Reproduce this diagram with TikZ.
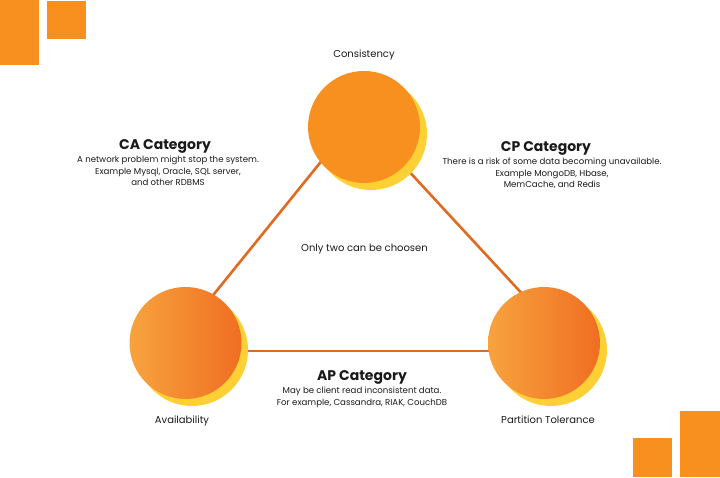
\documentclass[tikz,border=0pt]{standalone}
\usepackage{fontspec}
\setmainfont{Poppins}
\usetikzlibrary{positioning}

\definecolor{capOrange}{HTML}{F7901E}
\definecolor{capLight}{HTML}{F7A33E}
\definecolor{capDark}{HTML}{F06E22}
\definecolor{capYellow}{HTML}{FDD135}
\definecolor{capLine}{HTML}{E06A1F}
\definecolor{capText}{HTML}{1A1A1A}

\tikzset{
    ball/.style={circle, minimum size=112pt, inner sep=0pt},
    ballshadow/.style={ball, fill=capYellow},
    edgeline/.style={draw=capLine, line width=2.6pt},
    cathead/.style={font=\bfseries\fontsize{14}{16}\selectfont, text=capText, inner sep=0pt},
    catbody/.style={font=\fontsize{8.6}{11.2}\selectfont, text=capText, align=center, inner sep=0pt},
    vertex/.style={font=\fontsize{10}{12}\selectfont, text=capText, inner sep=0pt}
}

\begin{document}
\begin{tikzpicture}[x=1pt, y=-1pt]
    \useasboundingbox (0,0) rectangle (720,478);

    % 角上的方块
    \fill[capOrange] (0,0) rectangle (39,65);
    \fill[capOrange] (47,1) rectangle (86,39);
    \fill[capOrange] (633,438) rectangle (672,477);
    \fill[capOrange] (680,411) rectangle (720,477);

    % 三角形的连线
    \coordinate (cTop)   at (349,127);
    \coordinate (cTopR)  at (368,127);
    \coordinate (cLeft)  at (168,351);
    \coordinate (cRight) at (575,351);
    \coordinate (bLeft)  at (185,351);
    \coordinate (bRight) at (544,351);
    \draw[edgeline] (cTop) -- (cLeft);
    \draw[edgeline] (cTopR) -- (cRight);
    \draw[edgeline] (bLeft) -- (bRight);

    % 三个圆
    \node[ballshadow] (cShadow) at (371,134) {};
    \node[ball, fill=capOrange] (consistency) at (364,127) {};
    \node[ballshadow] (aShadow) at (192,350) {};
    \node[ball, left color=capLight, right color=capDark] (availability) at (185.5,343) {};
    \node[ballshadow] (pShadow) at (551,350) {};
    \node[ball, left color=capLight, right color=capDark] (partition) at (544,343) {};

    % 顶点文字
    \node[vertex] (consTxt) at (364,55) {Consistency};
    \node[vertex] (availTxt) at (182,421) {Availability};
    \node[vertex] (partTxt) at (548,420) {Partition Tolerance};
    \node[vertex] (onlyTwo) at (364.5,249) {Only two can be choosen};

    % CA
    \node[cathead] (caHead) at (165,146) {CA Category};
    \node[catbody, below=3pt of caHead, xshift=3pt] (caBody) {A network problem might stop the system.\\
        Example Mysql, Oracle, SQL server,\\ and other RDBMS};

    % CP
    \node[cathead] (cpHead) at (546,148) {CP Category};
    \node[catbody, below=3pt of cpHead, xshift=6pt] (cpBody) {There is a risk of some data becoming unavailable.\\
        Example MongoDB, Hbase,\\ MemCache, and Redis};

    % AP
    \node[cathead] (apHead) at (362,377) {AP Category};
    \node[catbody, below=3pt of apHead] (apBody) {May be client read inconsistent data.\\
        For example, Cassandra, RIAK, CouchDB};
\end{tikzpicture}
\end{document}
